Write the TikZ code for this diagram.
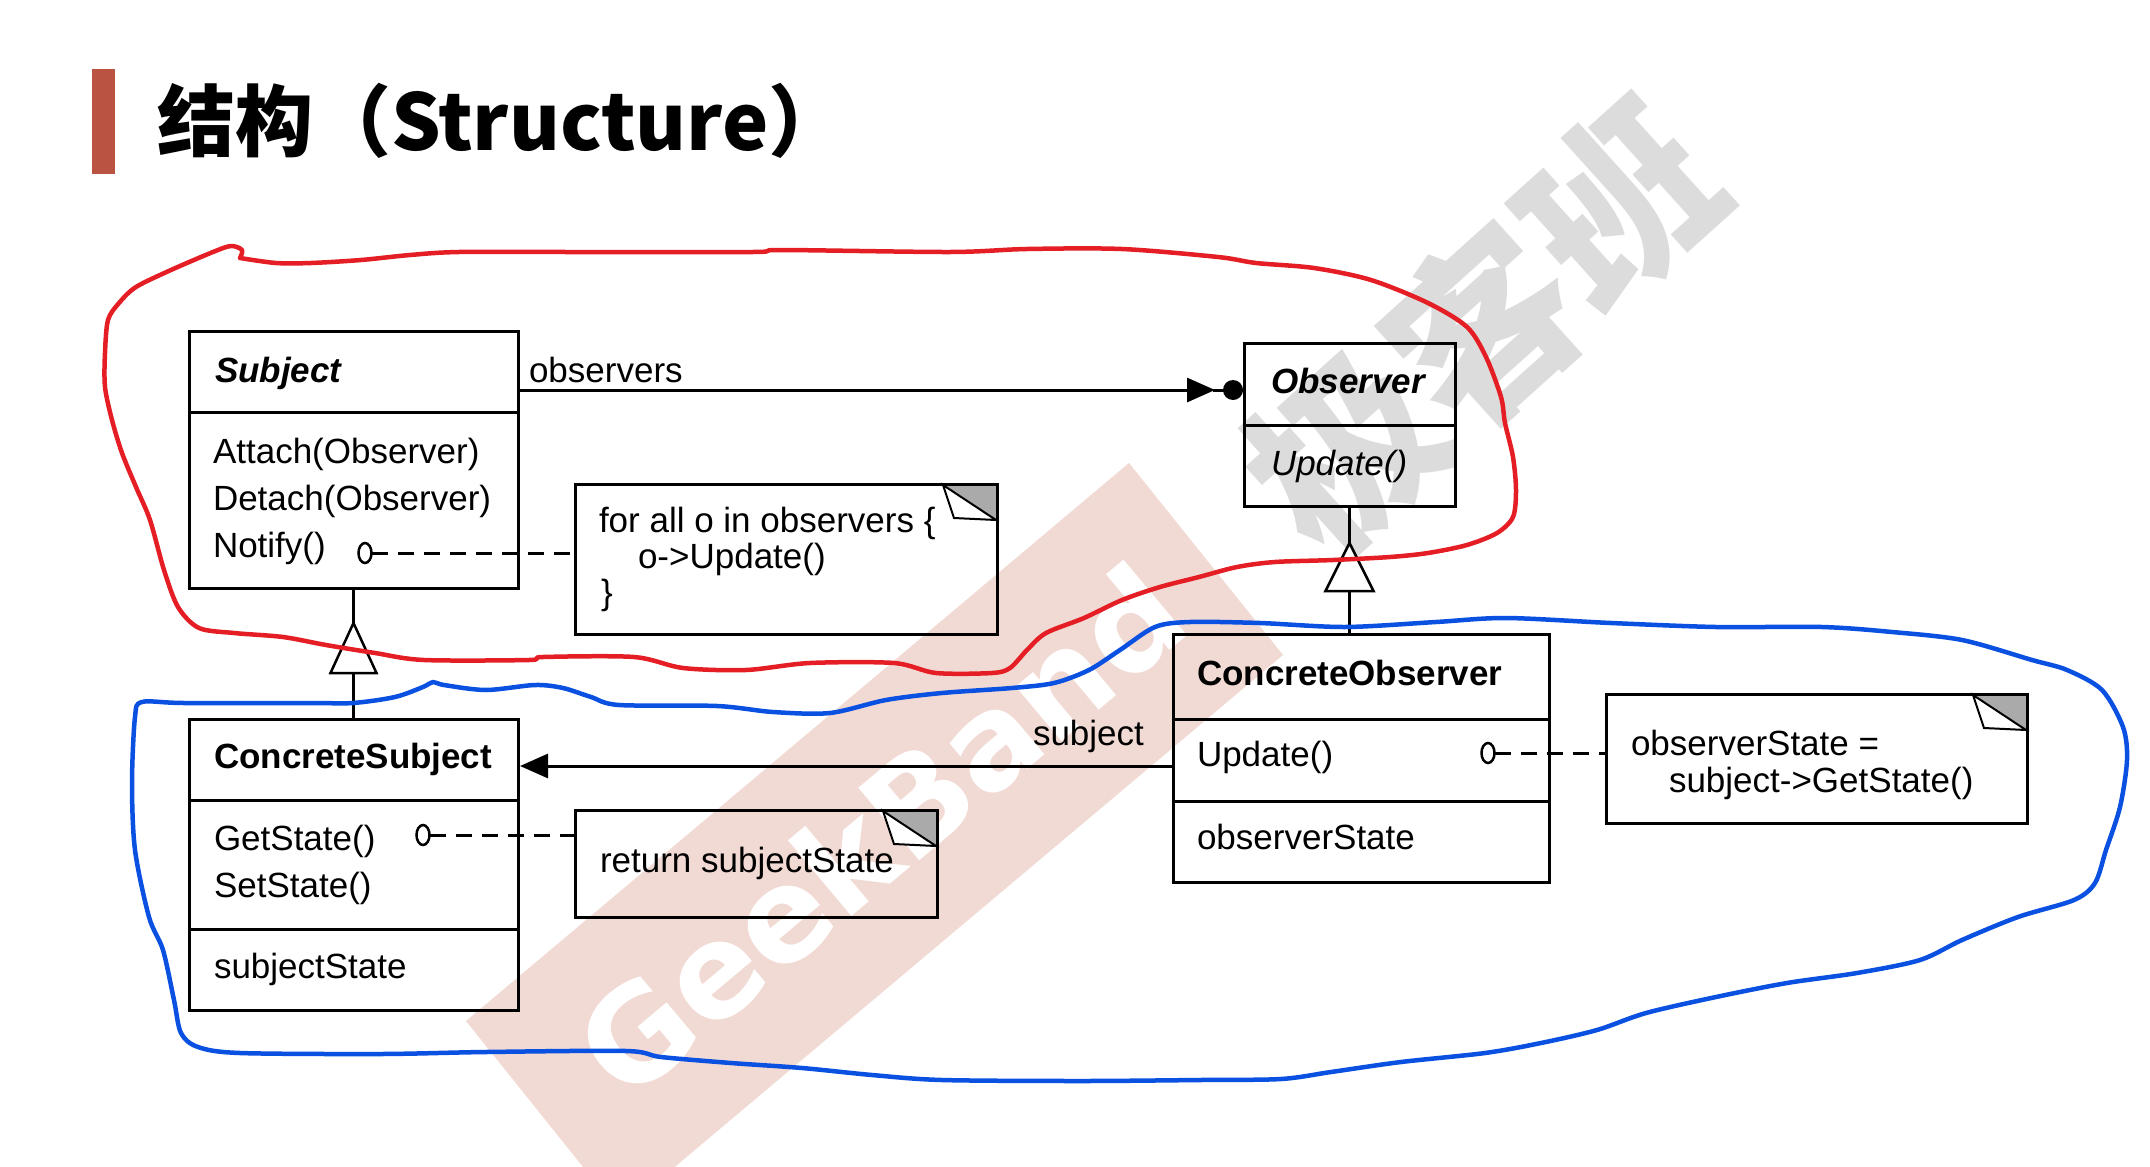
\documentclass[tikz,border=0pt]{standalone}
\usepackage{fontspec}
\setmainfont{Liberation Sans}
\newfontfamily\cjk{Noto Sans CJK SC}
\newfontfamily\wmfont{DejaVu Sans}
\usetikzlibrary{calc,arrows.meta,shapes.geometric}
\definecolor{titlebar}{RGB}{186,83,66}
\definecolor{penred}{RGB}{228,30,36}
\definecolor{penblue}{RGB}{10,80,225}
\definecolor{wmpink}{RGB}{242,218,212}
\definecolor{wmgray}{RGB}{220,220,220}
\definecolor{foldgray}{RGB}{170,170,170}
\begin{document}
\begin{tikzpicture}[x=1pt,y=-1pt,
  every node/.style={inner sep=0pt, outer sep=0pt},
  lbl/.style={anchor=base west, font=\fontsize{35}{42}\selectfont},
  lblb/.style={anchor=base west, font=\fontsize{35}{42}\selectfont\bfseries},
  lblbi/.style={anchor=base west, font=\fontsize{35}{42}\selectfont\bfseries\itshape},
  lbli/.style={anchor=base west, font=\fontsize{35}{42}\selectfont\itshape},
  classbox/.style={draw, line width=3pt, anchor=north west},
  notebox/.style={draw, line width=3pt, anchor=north west},
  conn/.style={line width=3pt},
  genline/.style={line width=2.5pt},
  dashline/.style={line width=3pt, dash pattern=on 16pt off 10pt},
  port/.style={draw, ellipse, line width=2.5pt, minimum width=13pt, minimum height=20pt, fill=white},
  pen/.style={line width=4.5pt, line cap=round, line join=round},
  tri/.style={draw, line width=2.5pt, fill=white, line join=miter}
]
\fill[white] (0,0) rectangle (2150,1167);
\useasboundingbox (0,0) rectangle (2150,1167);

% watermarks
\fill[wmpink] (1129,463) -- (1283,655) -- (620,1213) -- (466,1021) -- cycle;
\node[rotate=40, text=white, font=\wmfont\bfseries\fontsize{130}{130}\selectfont] (wmtext) at (880,830) {GeekBand};
\node[rotate=42, text=wmgray, font=\cjk\bfseries\fontsize{185}{185}\selectfont] (wmcn) at (1482,326) {极客班};

% title
\fill[titlebar] (92,69) rectangle (115,174);
\node[anchor=base west, font=\cjk\bfseries\fontsize{78}{78}\selectfont] (title) at (157,150) {结构（Structure）};

% Subject
\node[classbox, minimum width=329pt, minimum height=257pt] (subj) at (189,331) {};
\draw[line width=3pt] (189,412) -- (518,412);
\node[lblbi] (subjN) at (215,382) {Subject};
\node[lbl] (subjM1) at (213,463) {Attach(Observer)};
\node[lbl] (subjM2) at (213,510) {Detach(Observer)};
\node[lbl] (subjM3) at (213,557) {Notify()};

% Observer
\node[classbox, minimum width=211pt, minimum height=163pt] (obs) at (1244,343) {};
\draw[line width=3pt] (1244,425) -- (1455,425);
\node[lblbi] (obsN) at (1271,393) {Observer};
\node[lbli] (obsM1) at (1271,475) {Update()};

% ConcreteSubject
\node[classbox, minimum width=329pt, minimum height=291pt] (csubj) at (189,719) {};
\draw[line width=3pt] (189,800) -- (518,800);
\draw[line width=3pt] (189,929) -- (518,929);
\node[lblb] (csubjN) at (214,768) {ConcreteSubject};
\node[lbl] (csubjM1) at (214,850) {GetState()};
\node[lbl] (csubjM2) at (214,897) {SetState()};
\node[lbl] (csubjA1) at (214,978) {subjectState};

% ConcreteObserver
\node[classbox, minimum width=376pt, minimum height=248pt] (cobs) at (1173,634) {};
\draw[line width=3pt] (1173,719) -- (1549,719);
\draw[line width=3pt] (1173,801) -- (1549,801);
\node[lblb] (cobsN) at (1197,685) {ConcreteObserver};
\node[lbl] (cobsM1) at (1197,766) {Update()};
\node[lbl] (cobsA1) at (1197,849) {observerState};

% notes
\node[notebox, minimum width=422pt, minimum height=150pt] (note1) at (575,484) {};
\node[notebox, minimum width=362pt, minimum height=107pt] (note2) at (575,810) {};
\node[notebox, minimum width=421pt, minimum height=129pt] (note3) at (1606,694) {};
\foreach \n in {note1,note2,note3} {
  \fill[foldgray] ($(\n.north east)+(-54,0)$) -- (\n.north east) -- ($(\n.north east)+(0,37)$) -- cycle;
  \draw[line width=2pt, fill=white, line join=miter] ($(\n.north east)+(-54,1)$) -- ($(\n.north east)+(-43,34)$) -- ($(\n.north east)+(-1,36)$) -- cycle;
  \draw[line width=3pt] (\n.north west) -- (\n.north east) -- (\n.south east);
}
\node[lbl] (n1a) at (599,532) {for all o in observers \{};
\node[lbl] (n1b) at (638,568) {o->Update()};
\node[lbl] (n1c) at (601,604) {\}};
\node[lbl] (n2a) at (600,872) {return subjectState};
\node[lbl] (n3a) at (1631,755) {observerState =};
\node[lbl] (n3b) at (1669,792) {subject->GetState()};

% generalization Subject <- ConcreteSubject
\path (csubj.north) ++(0,-46) coordinate (g1b);
\draw[genline] (csubj.north) -- (g1b);
\draw[tri] ($(g1b)+(-23,0)$) -- ($(g1b)+(0,-50)$) -- ($(g1b)+(23,0)$) -- cycle;
\draw[genline] ($(g1b)+(0,-50)$) -- (subj.south);

% generalization Observer <- ConcreteObserver
\coordinate (g2t) at (obs.south |- cobs.north);
\path (g2t) ++(0,-43) coordinate (g2b);
\draw[genline] (g2t) -- (g2b);
\draw[tri] ($(g2b)+(-24,0)$) -- ($(g2b)+(0,-48)$) -- ($(g2b)+(24,0)$) -- cycle;
\draw[genline] ($(g2b)+(0,-48)$) -- (obs.south);

% association observers
\path (subj.north east) ++(0,59) coordinate (aS);
\path (obs.north west) ++(0,47) coordinate (aO);
\draw[conn, -{Triangle[length=28pt,width=24pt]}] (aS) -- ($(aO)+(-29,0)$);
\draw[conn] ($(aO)+(-31,0)$) -- (aO);
\fill ($(aO)+(-11,0)$) circle[radius=10pt];
\node[lbl] (obsLbl) at (529,382) {observers};

% association subject
\path (csubj.north east) ++(0,47) coordinate (sS);
\coordinate (sO) at (cobs.west |- sS);
\draw[conn, -{Triangle[length=28pt,width=24pt]}] (sO) -- ($(sS)+(2,0)$);
\node[lbl] (subjLbl) at (1033,745) {subject};

% note anchors
\node[port] (p1) at (365,553) {};
\draw[dashline] (p1) -- (p1 -| note1.west);
\node[port] (p2) at (423,835) {};
\draw[dashline] (p2) -- (p2 -| note2.west);
\node[port] (p3) at (1488,753) {};
\draw[dashline] (p3) -- (p3 -| note3.west);

% hand-drawn red outline
\draw[pen, penred] plot[smooth, tension=0.5] coordinates {
(240,258) (276,263) (311,263) (361,260) (410,255) (459,252) (571,252) (753,252) (781,250) (950,252) (1027,249) (1122,249) (1218,257) (1256,263) (1314,268) (1371,280) (1428,303) (1467,327) (1486,357) (1501,397) (1505,423) (1513,457) (1516,490) (1513,517) (1497,533) (1467,545) (1428,553) (1390,557) (1333,560) (1275,562) (1237,567) (1199,577) (1160,587) (1122,600) (1084,618) (1046,633) (1027,650) (1010,668) (992,673) (936,673) (894,663) (810,663) (746,670) (683,668) (634,657) (543,657) (529,660) (424,660) (375,653) (326,645) (283,637) (234,633) (199,628) (178,607) (164,570) (150,520) (136,487) (122,453) (112,420) (105,387) (105,353) (108,320) (119,303) (136,287) (171,270) (213,252) (231,246) (242,250) (240,258)};

% hand-drawn blue outline
\draw[pen, penblue] plot[smooth cycle, tension=0.5] coordinates {
(142,702) (184,703) (310,703) (353,703) (395,697) (423,687) (433,682) (444,685) (486,690) (535,685) (563,688) (591,697) (619,705) (717,706) (773,712) (830,713) (886,700) (942,693) (1012,688) (1054,683) (1089,670) (1120,650) (1155,627) (1190,622) (1260,623) (1345,627) (1436,622) (1506,618) (1611,623) (1716,627) (1822,627) (1892,632) (1962,640) (2032,660) (2067,670) (2102,690) (2123,727) (2127,760) (2120,807) (2106,850) (2095,883) (2074,900) (2018,917) (1962,940) (1920,960) (1857,973) (1787,983) (1716,997) (1646,1013) (1597,1030) (1541,1043) (1485,1053) (1401,1062) (1331,1072) (1281,1079) (1200,1080) (1082,1081) (942,1080) (872,1075) (802,1068) (731,1063) (661,1057) (626,1051) (486,1052) (381,1054) (240,1053) (198,1047) (181,1033) (174,1000) (163,950) (149,917) (135,850) (132,783) (135,717)};
\end{tikzpicture}
\end{document}
